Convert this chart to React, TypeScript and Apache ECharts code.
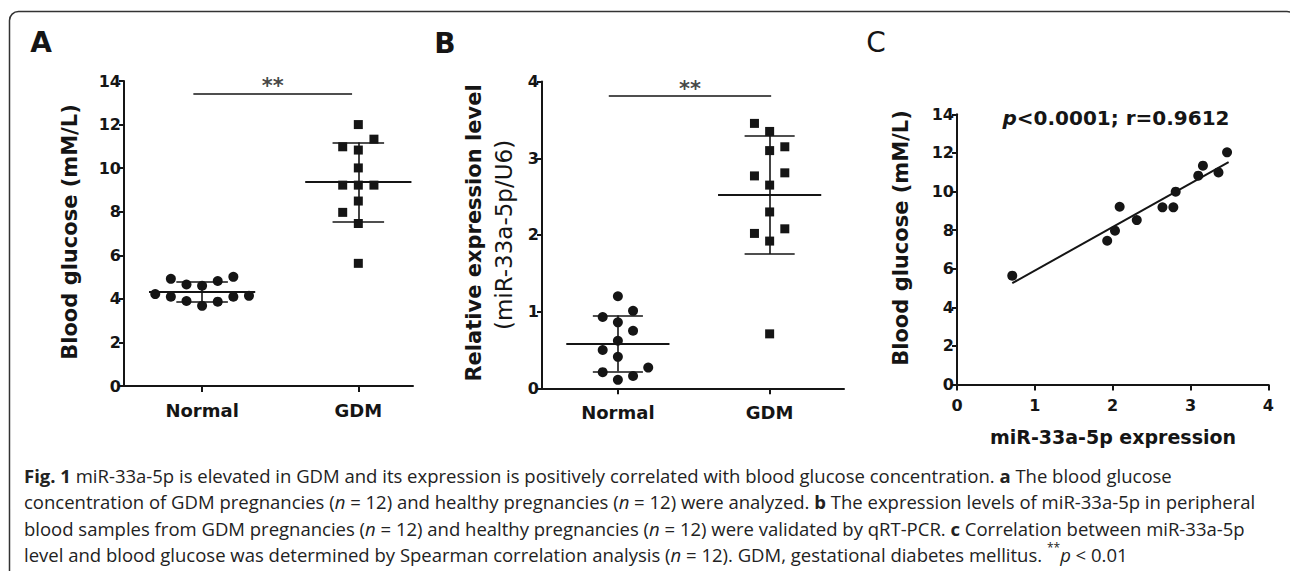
import React, { useEffect, useRef } from "react";
import * as echarts from "echarts";

// ---------- data ----------
const categories = ["Normal", "GDM"];

// Panel A: blood glucose (mM/L)
const glucoseNormal = [4.92, 4.66, 4.6, 4.82, 5.01, 4.22, 4.1, 3.9, 3.68, 3.87, 4.1, 4.14];
const glucoseNormalJitter = [-0.2, -0.1, 0, 0.1, 0.2, -0.3, -0.2, -0.1, 0, 0.1, 0.2, 0.3];
const glucoseGDM = [12.0, 11.33, 10.98, 10.83, 10.01, 9.22, 9.22, 9.22, 8.49, 7.97, 7.46, 5.63];
const glucoseGDMJitter = [0, 0.1, -0.1, 0, 0, -0.1, 0, 0.1, 0, -0.1, 0, 0];
const sigBarA = [0.944, 1.96, 13.43]; // x0, x1, y

// Panel B: relative expression (miR-33a-5p/U6)
const exprNormal = [1.2, 1.01, 0.93, 0.86, 0.75, 0.62, 0.5, 0.41, 0.27, 0.21, 0.16, 0.11];
const exprNormalJitter = [0, 0.1, -0.1, 0, 0.1, 0, -0.1, 0, 0.2, -0.1, 0.1, 0];
const exprGDM = [3.455, 3.35, 3.15, 3.1, 2.81, 2.77, 2.65, 2.3, 2.08, 2.02, 1.92, 0.71];
const exprGDMJitter = [-0.1, 0, 0.1, 0, 0.1, -0.1, 0, 0, 0.1, -0.1, 0, 0];
const sigBarB = [0.94, 2.01, 3.81];

// Panel C: correlation
const corrExpr = [0.71, 1.93, 2.03, 2.09, 2.31, 2.64, 2.78, 2.81, 3.1, 3.16, 3.36, 3.47];
const corrGlucose = [5.64, 7.45, 7.97, 9.21, 8.52, 9.18, 9.18, 9.99, 10.82, 11.34, 10.99, 12.03];
const statText = "{i|p}<0.0001; r=0.9612";

const captionLines = [
  "{b|Fig. 1} miR-33a-5p is elevated in GDM and its expression is positively correlated with blood glucose concentration. {b|a} The blood glucose",
  "concentration of GDM pregnancies ({i|n} = 12) and healthy pregnancies ({i|n} = 12) were analyzed. {b|b} The expression levels of miR-33a-5p in peripheral",
  "blood samples from GDM pregnancies ({i|n} = 12) and healthy pregnancies ({i|n} = 12) were validated by qRT-PCR. {b|c} Correlation between miR-33a-5p",
  "level and blood glucose was determined by Spearman correlation analysis ({i|n} = 12). GDM, gestational diabetes mellitus. {s|**}{i|p} < 0.01",
];

// ---------- helpers ----------
const FONT = '"DejaVu Sans", sans-serif';
const CAP_FONT = '"Open Sans", sans-serif';
const INK = "#151515";

const mean = (a: number[]) => a.reduce((s, v) => s + v, 0) / a.length;
const sd = (a: number[]) => {
  const m = mean(a);
  return Math.sqrt(a.reduce((s, v) => s + (v - m) * (v - m), 0) / (a.length - 1));
};

function errorBars(center: number, values: number[]) {
  const m = mean(values);
  const s = sd(values);
  const wide = { width: 2.2, color: INK, type: "solid" };
  return [
    [
      { coord: [center - 0.34, m], lineStyle: wide },
      { coord: [center + 0.34, m], lineStyle: wide },
    ],
    [{ coord: [center - 0.165, m + s] }, { coord: [center + 0.165, m + s] }],
    [{ coord: [center - 0.165, m - s] }, { coord: [center + 0.165, m - s] }],
    [{ coord: [center, m - s] }, { coord: [center, m + s] }],
  ];
}

const markLineBase = {
  silent: true,
  symbol: ["none", "none"],
  label: { show: false },
  emphasis: { disabled: true },
  lineStyle: { color: INK, width: 1.6, type: "solid" },
  animation: false,
};

function yAxis(gridIndex: number, max: number, interval: number) {
  return {
    type: "value",
    gridIndex,
    min: 0,
    max,
    interval,
    axisLine: { show: true, onZero: false, lineStyle: { color: INK, width: 2 } },
    axisTick: { show: true, length: 5, lineStyle: { color: INK, width: 2 } },
    axisLabel: { color: INK, fontFamily: FONT, fontWeight: "bold", fontSize: 16, margin: 3 },
    splitLine: { show: false },
  };
}

function catXAxis(gridIndex: number, max: number) {
  return {
    type: "value",
    gridIndex,
    min: 0.5,
    max,
    axisLine: { show: true, onZero: false, lineStyle: { color: INK, width: 2 } },
    axisTick: { show: true, length: 6, customValues: [1, 2], lineStyle: { color: INK, width: 2 } },
    axisLabel: {
      customValues: [1, 2],
      formatter: (v: number) => categories[Math.round(v) - 1] ?? "",
      color: INK,
      fontFamily: FONT,
      fontWeight: "bold",
      fontSize: 18,
      margin: 15,
    },
    splitLine: { show: false },
  };
}

function pointsSeries(
  xi: number,
  values: number[],
  jitter: number[],
  center: number,
  symbol: string,
  size: number
) {
  return {
    type: "scatter",
    xAxisIndex: xi,
    yAxisIndex: xi,
    symbol,
    symbolSize: size,
    itemStyle: { color: INK, opacity: 1 },
    silent: true,
    z: 3,
    data: values.map((v, i) => [center + jitter[i], v]),
    markLine: { ...markLineBase, data: errorBars(center, values) },
  };
}

function sigSeries(xi: number, bar: number[]) {
  return {
    type: "scatter",
    xAxisIndex: xi,
    yAxisIndex: xi,
    symbolSize: 0,
    silent: true,
    data: [[(bar[0] + bar[1]) / 2, bar[2]]],
    label: {
      show: true,
      position: "inside",
      offset: [0, -7],
      formatter: "**",
      color: INK,
      fontFamily: FONT,
      fontWeight: "bold",
      fontSize: 21,
    },
    markLine: {
      ...markLineBase,
      data: [[{ coord: [bar[0], bar[2]] }, { coord: [bar[1], bar[2]] }]],
    },
  };
}

// regression (least squares) for panel C
const mx = mean(corrExpr);
const my = mean(corrGlucose);
let sxy = 0;
let sxx = 0;
corrExpr.forEach((x, i) => {
  sxy += (x - mx) * (corrGlucose[i] - my);
  sxx += (x - mx) * (x - mx);
});
const slope = sxy / sxx;
const intercept = my - slope * mx;
const xLo = Math.min(...corrExpr);
const xHi = Math.max(...corrExpr);

function rotatedTitle(text: string, x: number, y: number, size: number, weight = "bold") {
  return {
    type: "text",
    x,
    y,
    rotation: Math.PI / 2,
    silent: true,
    style: {
      text,
      fill: INK,
      fontFamily: FONT,
      fontSize: size,
      fontWeight: weight,
      align: "center",
      verticalAlign: "middle",
      textAlign: "center",
      textVerticalAlign: "middle",
    },
  };
}

function panelLetter(text: string, x: number, y: number, weight = "bold") {
  return {
    type: "text",
    x,
    y,
    silent: true,
    style: {
      text,
      fill: INK,
      fontFamily: FONT,
      fontSize: 28,
      fontWeight: weight,
      align: "center",
      verticalAlign: "middle",
      textAlign: "center",
      textVerticalAlign: "middle",
    },
  };
}

export default function App() {
  const ref = useRef<HTMLDivElement>(null);

  useEffect(() => {
    if (!ref.current) return;
    const chart = echarts.init(ref.current, undefined, { renderer: "svg" });

    const capBase = { fontFamily: CAP_FONT, fontSize: 18.5, lineHeight: 26.5, fill: "#222" };

    const option: any = {
      animation: false,
      backgroundColor: "#ffffff",
      grid: [
        { left: 124, top: 81, width: 289, height: 305, outerBoundsMode: "none", containLabel: false },
        { left: 542, top: 81.6, width: 302, height: 306.7, outerBoundsMode: "none", containLabel: false },
        { left: 957, top: 114.3, width: 311.3, height: 270.2, outerBoundsMode: "none", containLabel: false },
      ],
      xAxis: [
        catXAxis(0, 2.35),
        catXAxis(1, 2.49),
        {
          type: "value",
          gridIndex: 2,
          min: 0,
          max: 4,
          interval: 1,
          axisLine: { show: true, onZero: false, lineStyle: { color: INK, width: 2 } },
          axisTick: { show: true, length: 6, lineStyle: { color: INK, width: 2 } },
          axisLabel: { color: INK, fontFamily: FONT, fontWeight: "bold", fontSize: 16, margin: 13 },
          splitLine: { show: false },
        },
      ],
      yAxis: [yAxis(0, 14, 2), yAxis(1, 4, 1), yAxis(2, 14, 2)],
      series: [
        pointsSeries(0, glucoseNormal, glucoseNormalJitter, 1, "circle", 10),
        pointsSeries(0, glucoseGDM, glucoseGDMJitter, 2, "rect", 9),
        sigSeries(0, sigBarA),
        pointsSeries(1, exprNormal, exprNormalJitter, 1, "circle", 10),
        pointsSeries(1, exprGDM, exprGDMJitter, 2, "rect", 9),
        sigSeries(1, sigBarB),
        {
          type: "scatter",
          xAxisIndex: 2,
          yAxisIndex: 2,
          symbol: "circle",
          symbolSize: 10,
          itemStyle: { color: INK, opacity: 1 },
          silent: true,
          z: 3,
          data: corrExpr.map((x, i) => [x, corrGlucose[i]]),
        },
        {
          type: "line",
          xAxisIndex: 2,
          yAxisIndex: 2,
          symbol: "none",
          silent: true,
          lineStyle: { color: INK, width: 2 },
          data: [
            [xLo, intercept + slope * xLo],
            [xHi + 0.02, intercept + slope * (xHi + 0.02)],
          ],
        },
      ],
      graphic: [
        {
          type: "rect",
          silent: true,
          shape: { x: 9.5, y: 11.5, width: 1286.5, height: 640, r: 9 },
          style: { fill: "none", stroke: "#333", lineWidth: 1.5 },
        },
        panelLetter("A", 41, 42),
        panelLetter("B", 445, 43),
        panelLetter("C", 876, 42, "normal"),
        rotatedTitle("Blood glucose (mM/L)", 70, 232, 21),
        rotatedTitle("Relative expression level", 474, 233, 21),
        rotatedTitle("(miR-33a-5p/U6)", 504, 235, 23, "normal"),
        rotatedTitle("Blood glucose (mM/L)", 901, 238, 21),
        {
          type: "text",
          x: 1113,
          y: 437,
          silent: true,
          style: {
            text: "miR-33a-5p expression",
            fill: INK,
            fontFamily: FONT,
            fontSize: 19,
            fontWeight: "bold",
            align: "center",
            verticalAlign: "middle",
            textAlign: "center",
            textVerticalAlign: "middle",
          },
        },
        {
          type: "text",
          x: 1116,
          y: 118,
          silent: true,
          style: {
            text: statText,
            fill: INK,
            fontFamily: FONT,
            fontSize: 20,
            fontWeight: "bold",
            align: "center",
            verticalAlign: "middle",
            textAlign: "center",
            textVerticalAlign: "middle",
            rich: {
              i: { fontFamily: FONT, fontSize: 20, fontWeight: "bold", fontStyle: "italic", fill: INK },
            },
          },
        },
        {
          type: "text",
          x: 24,
          y: 462,
          silent: true,
          style: {
            text: captionLines.join("\n"),
            ...capBase,
            align: "left",
            verticalAlign: "top",
            textAlign: "left",
            textVerticalAlign: "top",
            rich: {
              b: { ...capBase, fontWeight: "bold" },
              i: { ...capBase, fontStyle: "italic" },
              s: { fontFamily: CAP_FONT, fontSize: 12, lineHeight: 12, fill: "#222", verticalAlign: "top" },
            },
          },
        },
      ],
    };

    chart.setOption(option);
    return () => chart.dispose();
  }, []);

  return (
    <div
      ref={ref}
      style={{ position: "fixed", left: 0, top: 0, width: 1290, height: 571, background: "#fff" }}
    />
  );
}
